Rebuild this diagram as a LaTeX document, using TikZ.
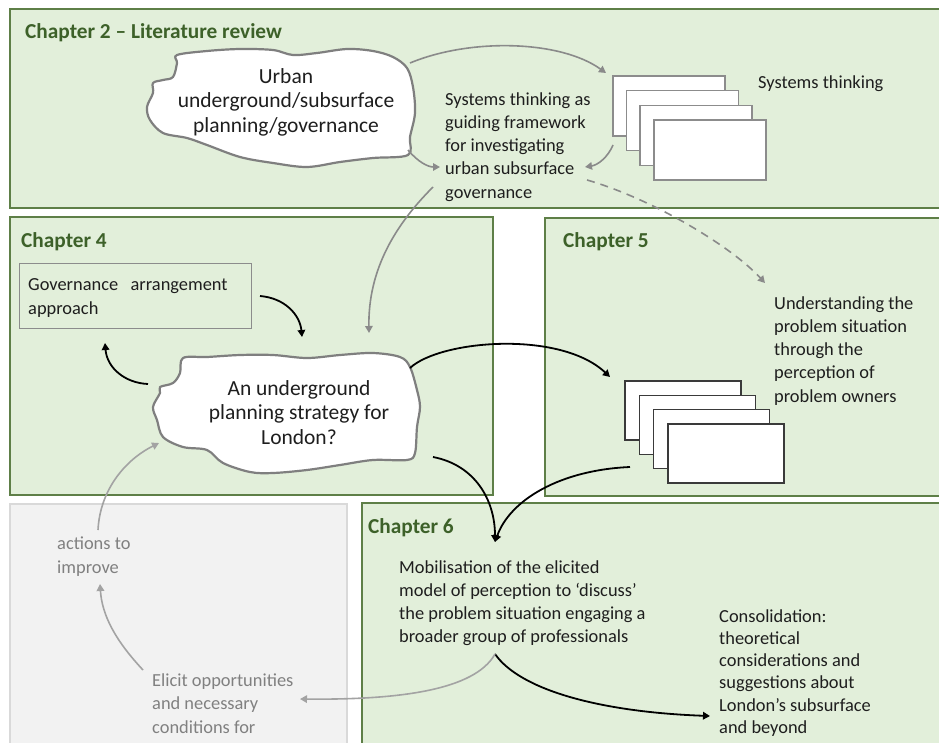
\documentclass[tikz,border=0pt]{standalone}
\usepackage{fontspec}
\setmainfont{Carlito}
\usetikzlibrary{arrows.meta}

\definecolor{panelfill}{HTML}{E2EFDA}
\definecolor{panelline}{HTML}{5E7F47}
\definecolor{titlegreen}{HTML}{3D6129}
\definecolor{greyfill}{HTML}{F2F2F2}
\definecolor{greyline}{HTML}{D9D9D9}
\definecolor{greytext}{HTML}{808080}
\definecolor{bodytext}{HTML}{1E1E1E}
\definecolor{cloudline}{HTML}{7F7F7F}
\definecolor{arrowgrey}{HTML}{8A8A8A}
\definecolor{lightarrow}{HTML}{A3A3A3}
\definecolor{cardgrey}{HTML}{8C8C8C}
\definecolor{carddark}{HTML}{3A3A3A}

\begin{document}
% multi-line nodes are placed by the baseline of their last line
\begin{tikzpicture}[x=1pt,y=-1pt,
  panel/.style={draw=panelline, fill=panelfill, line width=1.4pt},
  greypanel/.style={draw=greyline, fill=greyfill, line width=1.2pt},
  title/.style={font=\fontsize{21.3}{25}\selectfont\bfseries, text=titlegreen, anchor=base west, inner sep=0pt},
  body/.style={font=\fontsize{18.4}{23.2}\selectfont, text=bodytext, align=left, anchor=base west, inner sep=0pt},
  tightbody/.style={body, font=\fontsize{18.4}{22.3}\selectfont},
  faded/.style={body, text=greytext},
  cloudtext/.style={font=\fontsize{21.5}{24.5}\selectfont, text=bodytext, align=center, anchor=base, inner sep=0pt},
  cloud/.style={draw=cloudline, fill=white, line width=2.2pt, line join=round},
  card/.style={fill=white, line width=1.5pt},
  tip/.style={-{Triangle[length=7pt,width=7.5pt]}},
  greyarrow/.style={draw=arrowgrey, line width=1.6pt, tip},
  lightarrowstyle/.style={draw=lightarrow, line width=1.6pt, tip},
  blackarrow/.style={draw=black, line width=1.8pt, tip}
]
\useasboundingbox (0,0) rectangle (939,742);
\clip (0,0) rectangle (939,742);
\fill[white] (0,0) rectangle (939,742);

% chapter panels
\draw[panel] (10,9) rectangle (948,208);
\draw[panel] (10,217) rectangle (493,495);
\draw[panel] (545,218) rectangle (948,496);
\draw[greypanel] (10,504) rectangle (347,750);
\draw[panel] (362,503) rectangle (948,750);

\node[title] (t2) at (25,38) {Chapter 2 – Literature review};
\node[title] (t4) at (21,247) {Chapter 4};
\node[title] (t5) at (563,247) {Chapter 5};
\node[title] (t6) at (368,533) {Chapter 6};

% chapter 2 cloud
\draw[cloud] plot[smooth cycle, tension=0.55] coordinates {
  (177,55) (207,51) (240,49) (273,50) (293,55) (317,53) (347,49) (373,51)
  (393,57) (407,68) (413,87) (415,113) (410,137) (408,155) (373,158)
  (340,162) (307,167) (273,163) (240,157) (207,145) (187,138) (163,133)
  (150,120) (147,107) (153,93) (153,83) (163,80) (173,77) (177,63)};
\node[cloudtext] (urban) at (286,132) {Urban\\underground/subsurface\\planning/governance};

% chapter 2 stack of cards
\foreach \dx/\dy in {0/0, 13.5/14.7, 27/29.3, 41/44} {
  \draw[card, draw=cardgrey] (613+\dx,76+\dy) rectangle ++(112,60);
}
\node[body] (systems) at (758,88) {Systems thinking};
\node[body] (framework) at (445,198) {Systems thinking as\\guiding framework\\for investigating\\urban subsurface\\governance};

% chapter 4
\draw[draw=cardgrey, line width=1pt] (19,263) rectangle (251,328);
\node[body] (arrangement) at (28,314) {Governance\hspace{0.45em} arrangement\\approach};
\draw[cloud] plot[smooth cycle, tension=0.55] coordinates {
  (183,358) (207,357) (240,355) (273,355) (307,358) (340,355) (373,353)
  (400,357) (410,367) (417,390) (420,407) (417,427) (415,453) (407,460)
  (373,460) (340,465) (307,470) (273,473) (250,472) (223,463) (207,450)
  (183,447) (163,437) (157,420) (153,407) (160,393) (160,387) (173,383)
  (180,373)};
\node[cloudtext] (strategy) at (299,444) {An underground\\planning strategy for\\London?};

% chapter 5
\foreach \dx/\dy in {0/0, 14.3/14.3, 28.7/28.7, 43/43} {
  \draw[card, draw=carddark] (625+\dx,381+\dy) rectangle ++(116,59);
}
\node[body] (owners) at (774,402) {Understanding the\\problem situation\\through the\\perception of\\problem owners};

% chapter 6 and the faded box
\node[body] (mobilisation) at (399,642.6) {Mobilisation of the elicited\\model of perception to ‘discuss’\\the problem situation engaging a\\broader group of professionals};
\node[tightbody] (consolidation) at (719,733.5) {Consolidation:\\theoretical\\considerations and\\suggestions about\\London’s subsurface\\and beyond};
\node[faded] (actions) at (57,573) {actions to\\improve};
\node[faded] (elicit) at (152,733) {Elicit opportunities\\and necessary\\conditions for};

% connector end points
\coordinate (urbanNE) at (410,63);
\coordinate (urbanSE) at (408,150);
\coordinate (cardsTop) at (606,73);
\coordinate (cardsLow) at (613,145);
\coordinate (frameIn) at (440,167);
\coordinate (frameRight) at (585,167);
\coordinate (frameDash) at (587,180);
\coordinate (frameLow) at (433,187);
\coordinate (ownersIn) at (765,283);
\coordinate (strategyTop) at (369,333);
\coordinate (arrOut) at (260,296);
\coordinate (strategyTopL) at (302,337);
\coordinate (strategyW) at (148,384);
\coordinate (arrIn) at (105,343);
\coordinate (strategyNE) at (410,368);
\coordinate (cards5In) at (610,377);
\coordinate (strategySE) at (433,457);
\coordinate (cards5Out) at (630,467);
\coordinate (mobIn) at (495,542);
\coordinate (mobOut) at (495,654);
\coordinate (consIn) at (710,716);
\coordinate (elicitIn) at (300,699);
\coordinate (elicitOut) at (143,670);
\coordinate (actionsIn) at (100,584);
\coordinate (actionsOut) at (98,530);
\coordinate (strategySW) at (159,443);

% chapter 2 connectors
\draw[greyarrow] (urbanNE) .. controls (470,38) and (560,40) .. (cardsTop);
\draw[greyarrow] (urbanSE) .. controls (418,162) and (428,167) .. (frameIn);
\draw[greyarrow] (cardsLow) .. controls (608,157) and (598,165) .. (frameRight);
\draw[greyarrow, dash pattern=on 8pt off 6pt] (frameDash) .. controls (650,198) and (730,245) .. (ownersIn);
\draw[greyarrow] (frameLow) .. controls (395,225) and (368,270) .. (strategyTop);

% chapter 4 and 5 connectors
\draw[blackarrow] (arrOut) .. controls (285,298) and (300,315) .. (strategyTopL);
\draw[blackarrow] (strategyW) .. controls (125,383) and (107,368) .. (arrIn);
\draw[blackarrow] (strategyNE) .. controls (440,340) and (560,330) .. (cards5In);
\draw[blackarrow] (strategySE) .. controls (475,465) and (495,500) .. (mobIn);
\draw[blackarrow] (cards5Out) .. controls (560,470) and (510,500) .. (mobIn);

% chapter 6 connectors
\draw[blackarrow] (mobOut) .. controls (520,690) and (600,712) .. (consIn);
\draw[lightarrowstyle] (mobOut) .. controls (475,690) and (400,700) .. (elicitIn);
\draw[lightarrowstyle] (elicitOut) .. controls (115,640) and (102,615) .. (actionsIn);
\draw[lightarrowstyle] (actionsOut) .. controls (100,490) and (125,460) .. (strategySW);
\end{tikzpicture}
\end{document}
